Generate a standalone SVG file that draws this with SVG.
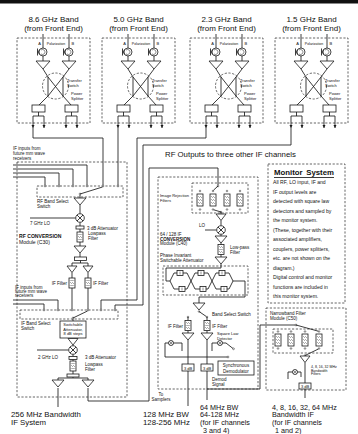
<svg xmlns="http://www.w3.org/2000/svg" xmlns:xlink="http://www.w3.org/1999/xlink" width="358" height="434" viewBox="0 0 358 434">
<style>
.ln{fill:none;stroke:#1a1a1a;stroke-width:0.85}
.thin{fill:none;stroke:#1a1a1a;stroke-width:0.5}
.ds{fill:none;stroke:#333;stroke-width:0.75;stroke-dasharray:2.2 1.6}
.bx{fill:#fff;stroke:#1a1a1a;stroke-width:0.8}
.ct{fill:#fff;stroke:#1a1a1a;stroke-width:0.5}
text{font-family:"Liberation Sans",Arial,Helvetica,sans-serif;fill:#111}
.t8{font-size:8px}
.tb{font-size:7.8px}
.tc{font-size:7.2px}
.t75{font-size:7.8px}
.t5{font-size:5.1px}
.t45{font-size:4.5px}
.t4{font-size:4px}
.t35{font-size:3.5px}
.mid{text-anchor:middle}
.end{text-anchor:end}
.bold{font-weight:bold}
</style>
<defs>
<marker id="ah" viewBox="0 0 6 6" refX="6" refY="3" markerWidth="4" markerHeight="4" orient="auto"><path d="M0,0 L6,3 L0,6 Z" fill="#1a1a1a"/></marker>
<path id="amp" d="M-6,0 H6 L0,7 Z" class="bx"/>
<path id="amps" d="M-5,0 H5 L0,6.5 Z" class="bx"/>
<g id="mix"><circle r="4.3" class="bx"/><path d="M-3,-3 L3,3 M-3,3 L3,-3" class="ln"/></g>
<g id="det"><circle r="2.5" class="bx"/><path d="M-1.7,-1.7 L1.7,1.7 M-1.7,1.7 L1.7,-1.7" class="thin"/></g>
<g id="flt"><rect x="-3" y="-5" width="6" height="10" class="bx"/><path d="M-2,-2.5 q0.5,-1 1,0 t1,0 t1,0 t1,0 M-2,0 q0.5,-1 1,0 t1,0 t1,0 t1,0 M-2,2.5 q0.5,-1 1,0 t1,0 t1,0 t1,0" fill="none" stroke="#1a1a1a" stroke-width="0.4"/></g>
<g id="flt2"><rect x="-3" y="-6" width="6" height="12" class="bx"/><path d="M-2,-3 q0.5,-1 1,0 t1,0 t1,0 t1,0 M-2,0 q0.5,-1 1,0 t1,0 t1,0 t1,0 M-2,3 q0.5,-1 1,0 t1,0 t1,0 t1,0" fill="none" stroke="#1a1a1a" stroke-width="0.4"/></g>
<g id="stage">
<path class="ln" d="M0,0 L4,-8 H17 L21,0 L17,8 H4 Z"/>
<rect x="7" y="-10.5" width="6" height="5" class="bx"/><path class="thin" d="M10,-9.5 V-6.5"/>
<rect x="9" y="5.5" width="6" height="5" class="bx"/><path class="thin" d="M12,6.5 V9.5"/>
</g>
<g id="band">
<rect x="17" y="38" width="73" height="85" class="ds"/>
<path class="ln" d="M43,34 V48 M69,34 V48 M43,56 V61 M69,56 V61 M37.5,48.5 V55.5 M39.8,49.3 L38,52 L39.8,54.7 M63.5,48.5 V55.5 M65.8,49.3 L64,52 L65.8,54.7"/>
<circle cx="43" cy="52" r="4" class="bx"/><circle cx="69" cy="52" r="4" class="bx"/>
<path class="thin" d="M41,50 A2.5,2.5 0 1 1 41,54 M67,50 A2.5,2.5 0 1 1 67,54"/>
<path class="bx" d="M36,61 H50 L43,69 Z M62,61 H76 L69,69 Z"/>
<circle cx="55.5" cy="86" r="13" class="ds"/>
<path class="ln" d="M43,69 L48,77 M69,69 L63,77 M48,77 V96 M63,77 V96 M48,77 L63,96 M63,77 L48,96 M48,96 L39,105 M63,96 L71,105"/>
<rect x="32" y="105" width="13" height="7" class="bx"/><rect x="65" y="105" width="13" height="7" class="bx"/>
<path class="ln" d="M38.5,112 V116 M33,116 H44 M71.5,112 V116 M66,116 H77"/>
<path class="ln" marker-end="url(#ah)" d="M33,116 V128"/>
<path class="ln" marker-end="url(#ah)" d="M44,116 V128"/>
<path class="ln" marker-end="url(#ah)" d="M66,116 V128"/>
<path class="ln" marker-end="url(#ah)" d="M77,116 V128"/>
<text x="41" y="44.5" class="t4 end">A</text>
<text x="71.5" y="44.5" class="t4">B</text>
<text x="56" y="44.5" class="t35 mid">Polarization</text>
<text x="67" y="82" class="t4">Transfer</text>
<text x="67" y="86.5" class="t4">Switch</text>
<text x="71" y="95" class="t4">Power</text>
<text x="71" y="99.5" class="t4">Splitter</text>
</g>
</defs>

<rect x="0" y="0" width="358" height="3.5" fill="#111"/>

<g id="band86">
<use href="#band" xlink:href="#band"/>
<text x="53.5" y="21.5" class="t8 mid">8.6 GHz Band</text>
<text x="53.5" y="30.5" class="t8 mid">(from Front End)</text>
</g>
<g id="band50">
<use href="#band" xlink:href="#band" x="85"/>
<text x="138.5" y="21.5" class="t8 mid">5.0 GHz Band</text>
<text x="138.5" y="30.5" class="t8 mid">(from Front End)</text>
</g>
<g id="band23">
<use href="#band" xlink:href="#band" x="173"/>
<text x="226.5" y="21.5" class="t8 mid">2.3 GHz Band</text>
<text x="226.5" y="30.5" class="t8 mid">(from Front End)</text>
</g>
<g id="band15">
<use href="#band" xlink:href="#band" x="258"/>
<text x="311.5" y="21.5" class="t8 mid">1.5 GHz Band</text>
<text x="311.5" y="30.5" class="t8 mid">(from Front End)</text>
</g>

<g id="connectors" class="ln">
<path d="M33,128 V138 H103 V185"/>
<path d="M118,128 V185"/>
<path d="M206,128 V138 H137 V300 H101 V309"/>
<path d="M291,128 V145 H143 V305 H115 V309"/>
<path d="M13,165 H87 V185 M13,169 H73 V185 M13,173 H59 V185 M13,177 H45 V185"/>
<path d="M13,300 H58 V309 M13,304 H44 V309"/>
<path d="M88,388 V401 H149 V168 H218 V185"/>
<path d="M58,388 V407"/>
<path d="M207,389 H260 V325 H296"/>
</g>

<text x="165" y="157" class="t75">RF Outputs to three other IF channels</text>

<g id="c30">
<rect x="17" y="162" width="110" height="235" class="ds"/>
<text x="13" y="150" class="t45">IF inputs from</text>
<text x="13" y="155" class="t45">future mm wave</text>
<text x="13" y="160" class="t45">receivers</text>
<rect x="37" y="186" width="86" height="11" class="ds"/>
<g class="ct"><circle cx="45" cy="186" r="0.9"/><circle cx="59" cy="186" r="0.9"/><circle cx="73" cy="186" r="0.9"/><circle cx="87" cy="186" r="0.9"/><circle cx="103" cy="186" r="0.9"/><circle cx="118" cy="186" r="0.9"/><circle cx="80" cy="194" r="0.9"/></g>
<path class="ln" d="M80,194 L102.5,187 M80,195 V198"/>
<text x="37" y="203" class="t45">RF Band Select</text>
<text x="37" y="208" class="t45">Switch</text>
<use href="#amp" xlink:href="#amp" x="80" y="198"/>
<path class="ln" d="M80,205 V213.7 M30,218 H75.7 M80,222.3 V226 M80,229 V232 M80,242 V246 M80,253 V257"/>
<use href="#mix" xlink:href="#mix" x="80" y="218"/>
<text x="30" y="225" class="t45">7 GHz LO</text>
<rect x="76" y="226" width="8" height="3" class="bx"/>
<text x="87" y="230" class="t45">3 dB Attenuator</text>
<use href="#flt" xlink:href="#flt" x="80" y="237"/>
<text x="88" y="235" class="t45">Lowpass</text>
<text x="88" y="240" class="t45">Filter</text>
<text x="19" y="238" class="t5 bold">RF CONVERSION</text>
<text x="19" y="244" class="t5">Module   (C30)</text>
<use href="#amp" xlink:href="#amp" x="80" y="246"/>
<rect x="74.5" y="257" width="12" height="3.5" class="bx"/>
<path class="ln" d="M80.5,260.5 V263 M72,263 H88 M72,263 V266 M88,263 V266 M72,272.5 V278 M88,272.5 V278 M72,288 V309 M88,288 V309"/>
<use href="#amps" xlink:href="#amps" x="72" y="266"/>
<use href="#amps" xlink:href="#amps" x="88" y="266"/>
<use href="#flt" xlink:href="#flt" x="72" y="283"/>
<use href="#flt" xlink:href="#flt" x="88" y="283"/>
<text x="67" y="285" class="t45 end">IF Filter</text>
<text x="93" y="285" class="t45">IF Filter</text>
<text x="15" y="288.5" class="t45">IF inputs from</text>
<text x="15" y="292.5" class="t45">future mm wave</text>
<text x="15" y="296.5" class="t45">receivers</text>
<rect x="20" y="310" width="98" height="9" class="ds"/>
<g class="ct"><circle cx="44" cy="310" r="0.9"/><circle cx="58" cy="310" r="0.9"/><circle cx="72" cy="310" r="0.9"/><circle cx="88" cy="310" r="0.9"/><circle cx="101" cy="310" r="0.9"/><circle cx="115" cy="310" r="0.9"/><circle cx="73" cy="318" r="0.9"/></g>
<path class="ln" d="M73,318 L87.5,311 M73,319 V321"/>
<text x="21" y="325" class="t45">IF Band Select</text>
<text x="21" y="330" class="t45">Switch</text>
<rect x="60" y="321" width="26" height="17" class="bx"/>
<text x="73" y="326" class="t4 mid">Switchable</text>
<text x="73" y="330.5" class="t4 mid">Attenuator,</text>
<text x="73" y="335" class="t4 mid">8 dB steps</text>
<use href="#amps" xlink:href="#amps" x="73" y="338.5"/>
<path class="ln" d="M73,345 V345.7 M37,350 H68.7 M73,354.3 V356.5 M73,359.5 V361 M73,371 V374"/>
<use href="#mix" xlink:href="#mix" x="73" y="350"/>
<text x="38" y="359" class="t45">2 GHz LO</text>
<rect x="69" y="356.5" width="8" height="3" class="bx"/>
<text x="85" y="359" class="t45">3 dB Attenuator</text>
<use href="#flt" xlink:href="#flt" x="73" y="366"/>
<text x="85" y="366" class="t45">Lowpass</text>
<text x="85" y="371" class="t45">Filter</text>
<rect x="67" y="374" width="12" height="3" class="bx"/>
<path class="ln" d="M73,377 V378 M58,378 H88 M58,378 V380 M88,378 V380"/>
<use href="#amp" xlink:href="#amp" x="58" y="380"/>
<use href="#amp" xlink:href="#amp" x="88" y="380"/>
</g>

<g id="c40">
<rect x="158" y="177" width="100" height="212" class="ds"/>
<text x="160" y="197" class="t4">Image Rejection</text>
<text x="160" y="201.5" class="t4">Filters</text>
<rect x="192" y="183" width="56" height="30" class="ds"/>
<use href="#flt2" xlink:href="#flt2" x="200" y="200"/>
<use href="#flt2" xlink:href="#flt2" x="213" y="200"/>
<use href="#flt2" xlink:href="#flt2" x="227" y="200"/>
<use href="#flt2" xlink:href="#flt2" x="240" y="200"/>
<g class="ct"><circle cx="200" cy="191" r="0.8"/><circle cx="213" cy="191" r="0.8"/><circle cx="227" cy="191" r="0.8"/><circle cx="240" cy="191" r="0.8"/><circle cx="200" cy="209.5" r="0.8"/><circle cx="213" cy="209.5" r="0.8"/><circle cx="227" cy="209.5" r="0.8"/><circle cx="240" cy="209.5" r="0.8"/><circle cx="218" cy="186" r="0.9"/><circle cx="221" cy="212" r="0.8"/></g>
<path class="ln" d="M218,186 L213.5,190.2 M221,212 L213.7,209.8 M221,212 V214 M221,220.5 V225.7 M205,230 H216.7 M221,234.3 V236 M221,243 V245 M221,254 V257 M221,264 V268 H166 V281 H170 M233,281 H245 V297 H199 V303"/>
<use href="#amps" xlink:href="#amps" x="221" y="214"/>
<use href="#mix" xlink:href="#mix" x="221" y="230"/>
<text x="199" y="227" class="t45">LO</text>
<text x="160" y="236" class="t45">64 / 128 IF</text>
<text x="160" y="240.5" class="t45 bold">CONVERSION</text>
<text x="160" y="245" class="t45">Module   (C40)</text>
<use href="#amp" xlink:href="#amp" x="221" y="236"/>
<use href="#flt" xlink:href="#flt" x="221" y="249.5"/>
<text x="230" y="249" class="t45">Low-pass</text>
<text x="230" y="254" class="t45">Filter</text>
<use href="#amp" xlink:href="#amp" x="221" y="257"/>
<text x="160" y="256.5" class="t45">Phase Invariant</text>
<text x="160" y="261.5" class="t45">Switchable  Attenuator</text>
<rect x="163" y="266" width="85" height="29" class="ds"/>
<use href="#stage" xlink:href="#stage" x="170" y="281"/>
<use href="#stage" xlink:href="#stage" x="191" y="281"/>
<use href="#stage" xlink:href="#stage" x="212" y="281"/>
<use href="#amp" xlink:href="#amp" x="199" y="303"/>
<g class="ct"><circle cx="199" cy="311.5" r="0.8"/><circle cx="188" cy="317" r="0.8"/><circle cx="207" cy="317" r="0.8"/></g>
<path class="ln" d="M199,311.5 L206.3,316.5 M188,317 V320.5 M207,317 V320.5 M188,330.5 V333 M207,330.5 V333"/>
<text x="212" y="315.5" class="t45">Band Select Switch</text>
<use href="#flt" xlink:href="#flt" x="188" y="325.5"/>
<use href="#flt" xlink:href="#flt" x="207" y="325.5"/>
<text x="183" y="327.5" class="t45 end">IF Filter</text>
<text x="212" y="327.5" class="t45">IF Filter</text>
<use href="#amp" xlink:href="#amp" x="188" y="333"/>
<use href="#amp" xlink:href="#amp" x="207" y="333"/>
<path class="ln" d="M188,340 V406 M207,340 V400"/>
<use href="#det" xlink:href="#det" x="171" y="343"/>
<path class="ln" d="M173.5,343 H182 V351 M168.5,343 H165 V357 H228"/>
<use href="#det" xlink:href="#det" x="220" y="343"/>
<path class="ln" d="M217.5,343 H212 V351 M222.5,343 H226 L233,348.5"/>
<g class="ct"><circle cx="228" cy="357" r="0.9"/><circle cx="233.5" cy="348.8" r="0.9"/></g>
<text x="217" y="335" class="t4">Square Law</text>
<text x="217" y="339.5" class="t4">Detector</text>
<rect x="218" y="361" width="36" height="14" class="bx"/>
<text x="236" y="366.5" class="t45 mid">Synchronous</text>
<text x="236" y="372.5" class="t45 mid">Demodulator</text>
<text x="212" y="380.5" class="t45">Demod</text>
<text x="212" y="385.5" class="t45">Signal</text>
<rect x="182" y="364" width="12" height="7" class="bx"/>
<rect x="201" y="364" width="12" height="7" class="bx"/>
<text x="188" y="369.5" class="t4 mid">3 dB</text>
<text x="207" y="369.5" class="t4 mid">3 dB</text>
<text x="161" y="396" class="t45 mid">To</text>
<text x="161" y="401" class="t45 mid">Samplers</text>
</g>

<g id="monitor">
<rect x="268" y="164" width="77" height="139" class="ds"/>
<text x="274" y="175" class="t75 bold" word-spacing="1.5">Monitor System</text>
<path class="ln" d="M274,177.5 H334"/>
<text x="273" y="184" class="t5">All RF, LO input, IF and</text>
<text x="273" y="193.5" class="t5">IF output levels are</text>
<text x="273" y="203" class="t5">detected with square law</text>
<text x="273" y="212.5" class="t5">detectors and sampled by</text>
<text x="273" y="222" class="t5">the monitor system.</text>
<text x="273" y="231.5" class="t5">(These, together with their</text>
<text x="273" y="241" class="t5">associated amplifiers,</text>
<text x="273" y="250.5" class="t5">couplers, power splitters,</text>
<text x="273" y="260" class="t5">etc. are not shown on the</text>
<text x="273" y="269.5" class="t5">diagram.)</text>
<text x="273" y="279" class="t5">Digital control and monitor</text>
<text x="273" y="288.5" class="t5">functions are included in</text>
<text x="273" y="298" class="t5">this monitor system.</text>
</g>

<g id="c50">
<rect x="266" y="308" width="80" height="82" class="ds"/>
<text x="270" y="315" class="t45">Narrowband Filter</text>
<text x="270" y="320" class="t45">Module   (C50)</text>
<rect x="273" y="329" width="60" height="24" class="ds"/>
<use href="#flt2" xlink:href="#flt2" x="278" y="340"/>
<use href="#flt2" xlink:href="#flt2" x="291" y="340"/>
<use href="#flt2" xlink:href="#flt2" x="305" y="340"/>
<use href="#flt2" xlink:href="#flt2" x="319" y="340"/>
<g class="ct"><circle cx="278" cy="331.5" r="0.8"/><circle cx="291" cy="331.5" r="0.8"/><circle cx="305" cy="331.5" r="0.8"/><circle cx="319" cy="331.5" r="0.8"/><circle cx="278" cy="348.5" r="0.8"/><circle cx="291" cy="348.5" r="0.8"/><circle cx="305" cy="348.5" r="0.8"/><circle cx="319" cy="348.5" r="0.8"/><circle cx="296" cy="325" r="0.9"/><circle cx="305" cy="355.5" r="0.8"/></g>
<path class="ln" d="M296,325 L318.3,331.2 M305,355.5 L318.4,349 M305,362.5 V383 M305,389 V398"/>
<use href="#amps" xlink:href="#amps" x="305" y="356"/>
<use href="#det" xlink:href="#det" x="295" y="372"/>
<path class="ln" d="M297.5,372 H301 V377 M292.5,372 H288 V379"/>
<rect x="299" y="383" width="12" height="6" class="bx"/>
<text x="305" y="387.6" class="t4 mid">3 dB</text>
<text x="311" y="368" class="t35">4, 8, 16, 32 MHz</text>
<text x="311" y="371.5" class="t35">Bandwidth</text>
<text x="311" y="375" class="t35">Filters</text>
</g>

<g id="labels">
<text x="11" y="417" class="tb">256 MHz Bandwidth</text>
<text x="11" y="425" class="tb">IF System</text>
<text x="143" y="417" class="tb">128 MHz BW</text>
<text x="143" y="425" class="tb">128-256 MHz</text>
<text x="200" y="409.5" class="tc">64 MHz BW</text>
<text x="200" y="417" class="tc">64-128 MHz</text>
<text x="200" y="424.5" class="tc">(for IF channels</text>
<text x="203" y="432.5" class="tc">3 and 4)</text>
<text x="272" y="409.5" class="tc">4, 8, 16, 32, 64 MHz</text>
<text x="272" y="417" class="tc">Bandwidth IF</text>
<text x="272" y="424.5" class="tc">(for IF channels</text>
<text x="275" y="432.5" class="tc">1 and 2)</text>
</g>
</svg>
